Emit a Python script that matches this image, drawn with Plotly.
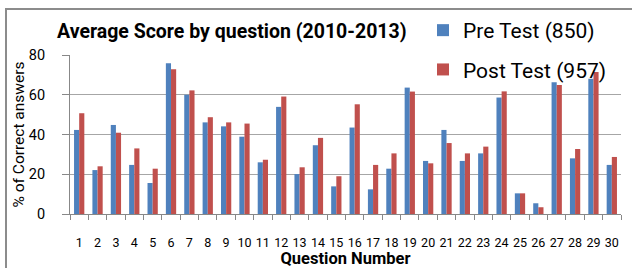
import plotly.graph_objects as go

questions = [str(i) for i in range(1, 31)]
pre_test = [42.3, 22.1, 44.8, 24.7, 15.6, 75.8, 60.0, 46.1, 44.1, 38.9,
            26.0, 53.9, 20.1, 34.6, 13.9, 43.5, 12.4, 22.8, 63.6, 26.7,
            42.3, 26.7, 30.5, 58.6, 10.4, 5.4, 66.3, 28.0, 68.1, 24.7]
post_test = [50.7, 24.0, 40.9, 33.0, 22.8, 72.8, 62.2, 48.7, 46.1, 45.5,
             27.3, 59.1, 23.5, 38.3, 19.0, 55.2, 24.7, 30.5, 61.6, 25.5,
             35.7, 30.5, 33.9, 61.7, 10.4, 3.4, 64.9, 32.7, 71.5, 28.7]
y_ticks = [0, 20, 40, 60, 80]

FONT = "Roboto, sans-serif"

fig = go.Figure()
fig.add_trace(go.Bar(x=questions, y=pre_test, name="Pre Test (850)",
                     marker=dict(color="#4F81BD", line=dict(width=0)),
                     legendgroup="a"))
fig.add_trace(go.Bar(x=questions, y=post_test, name="Post Test (957)",
                     marker=dict(color="#C0504D", line=dict(width=0)),
                     legendgroup="b"))

L, R, T, B = 70, 621, 55, 214
W, H = 632, 268
pw, ph = R - L, B - T

def px(x):
    return (x - L) / pw

def py(y):
    return (B - y) / ph

fig.update_layout(
    width=W, height=H,
    margin=dict(l=L, r=W - R, t=T, b=H - B, pad=0, autoexpand=False),
    paper_bgcolor="white", plot_bgcolor="white",
    barmode="group", bargap=0.44, bargroupgap=0,
    font=dict(family=FONT, size=14, color="#000000"),
    title=dict(text="<b>Average Score by question (2010-2013)</b>",
               x=57 / W, xanchor="left", y=1 - 31 / H, yanchor="middle",
               font=dict(family=FONT, size=19.5, color="#000000")),
    legend=dict(x=px(423), xanchor="left", y=py(10), yanchor="top",
                bgcolor="rgba(0,0,0,0)", traceorder="grouped",
                tracegroupgap=9, font=dict(family=FONT, size=21),
                itemwidth=30),
    showlegend=True,
    shapes=[
        dict(type="line", xref="paper", yref="paper",
             x0=px(5), x1=px(640), y0=py(9), y1=py(9),
             line=dict(color="#8c8c8c", width=2)),
        dict(type="line", xref="paper", yref="paper",
             x0=px(6), x1=px(6), y0=py(9), y1=py(280),
             line=dict(color="#8c8c8c", width=2)),
    ],
)

fig.update_xaxes(
    type="category", showgrid=False, showline=True, linecolor="#888888",
    linewidth=1, ticks="outside", tickson="boundaries", ticklen=5,
    tickcolor="#888888", ticklabelstandoff=17, tickangle=0,
    tickfont=dict(family=FONT, size=12.5),
    title=dict(text="<b>Question Number</b>", standoff=0,
               font=dict(family=FONT, size=16.5)),
)
fig.update_yaxes(
    range=[0, 80], tickvals=y_ticks, showgrid=True, gridcolor="#a6a6a6",
    gridwidth=1, showline=True, linecolor="#888888", ticks="outside",
    ticklen=7, tickcolor="#888888", ticklabelstandoff=14, zeroline=False,
    tickfont=dict(family=FONT, size=14.5),
    title=dict(text="% of Correct answers", standoff=0,
               font=dict(family=FONT, size=15.5)),
)

fig.write_html("out.html", post_script="document.body.style.margin='0';",
               config={"displayModeBar": False})
